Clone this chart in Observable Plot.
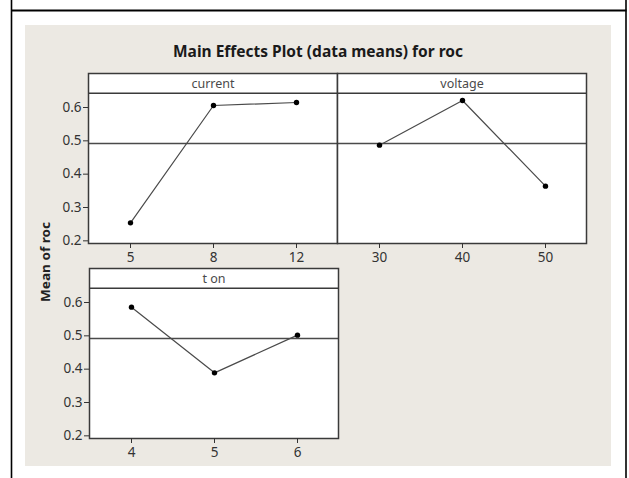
<!DOCTYPE html>
<html>
<head>
<meta charset="utf-8">
<script src="https://cdn.jsdelivr.net/npm/d3@7"></script>
<script src="https://cdn.jsdelivr.net/npm/@observablehq/plot@0.6"></script>
<style>
  html, body { margin: 0; padding: 0; background: #ffffff; }
  #page { position: relative; width: 629px; height: 478px; overflow: hidden; font-family: "Noto Sans", "DejaVu Sans", sans-serif; }
  #deco { position: absolute; left: 0; top: 0; }
  .panel { position: absolute; }
  .panel svg { overflow: visible; }
</style>
</head>
<body>
<div id="page">
  <svg id="deco" width="629" height="478">
    <rect x="25" y="25" width="586" height="441" fill="#ece9e3"></rect>
    <line x1="11.5" y1="0" x2="11.5" y2="478" stroke="#000" stroke-width="1.6"></line>
    <line x1="626" y1="0" x2="626" y2="478" stroke="#000" stroke-width="1.6"></line>
    <line x1="11" y1="10.5" x2="626.5" y2="10.5" stroke="#000" stroke-width="2"></line>
    <text id="title" x="318" y="57" text-anchor="middle" font-size="16" font-weight="bold" fill="#1a1a1a"
          textLength="290" lengthAdjust="spacingAndGlyphs">Main Effects Plot (data means) for roc</text>
    <text id="ylabel" transform="translate(50,262) rotate(-90)" text-anchor="middle" font-size="12.5" font-weight="bold" fill="#222"
          textLength="80" lengthAdjust="spacingAndGlyphs">Mean of roc</text>
  </svg>
  <div class="panel" id="p1" style="left:48px; top:60px;"></div>
  <div class="panel" id="p2" style="left:336px; top:60px;"></div>
  <div class="panel" id="p3" style="left:49px; top:255px;"></div>
</div>
<script>
// ---- data ----
const factorNames = ["current", "voltage", "t on"];
const currentLevels = ["5", "8", "12"];
const currentMeans = [0.254, 0.606, 0.615];
const voltageLevels = ["30", "40", "50"];
const voltageMeans = [0.487, 0.621, 0.364];
const tonLevels = ["4", "5", "6"];
const tonMeans = [0.586, 0.389, 0.502];
const overallMean = 0.492;
const yTicks = [0.2, 0.3, 0.4, 0.5, 0.6];

// ---- layout options ----
const yDomain = [0.192, 0.702];
const stripEdge = 0.643;
const fontFamily = '"Noto Sans", "DejaVu Sans", sans-serif';

function panel(name, levels, means, showY) {
  const data = levels.map((l, i) => ({ level: l, mean: means[i] }));
  const mL = showY ? 40 : 1;
  return Plot.plot({
    width: mL + 249 + 1,
    height: 13 + 170 + 32,
    marginLeft: mL,
    marginRight: 1,
    marginTop: 13,
    marginBottom: 32,
    style: { background: "transparent", fontFamily, fontSize: "13px", color: "#333", overflow: "visible" },
    x: { type: "point", domain: levels, padding: 0.5, axis: null },
    y: { domain: yDomain, axis: null },
    marks: [
      Plot.frame({ fill: "white", stroke: null }),
      Plot.ruleY([overallMean], { stroke: "#4a4a4a", strokeWidth: 1.5 }),
      Plot.ruleY([stripEdge], { stroke: "#3a3a3a", strokeWidth: 1.5 }),
      Plot.text([name], { frameAnchor: "top", dy: 10, text: d => d, fontSize: 12.5, fill: "#4a4a4a", lineAnchor: "middle" }),
      Plot.line(data, { x: "level", y: "mean", stroke: "#4a4a4a", strokeWidth: 1.2 }),
      Plot.dot(data, { x: "level", y: "mean", r: 2.7, fill: "#000", stroke: null }),
      Plot.frame({ stroke: "#3a3a3a", strokeWidth: 1.5 }),
      Plot.axisX({ tickSize: 5, tickPadding: 4, fontSize: 13.5, label: null, stroke: "#333", fill: "#333" }),
      ...(showY
        ? [Plot.axisY(yTicks, { tickSize: 5, tickPadding: 2, fontSize: 13.5, tickFormat: d3.format(".1f"), label: null, stroke: "#333", fill: "#333" })]
        : [])
    ]
  });
}

document.getElementById("p1").appendChild(panel(factorNames[0], currentLevels, currentMeans, true));
document.getElementById("p2").appendChild(panel(factorNames[1], voltageLevels, voltageMeans, false));
document.getElementById("p3").appendChild(panel(factorNames[2], tonLevels, tonMeans, true));
</script>
</body>
</html>
